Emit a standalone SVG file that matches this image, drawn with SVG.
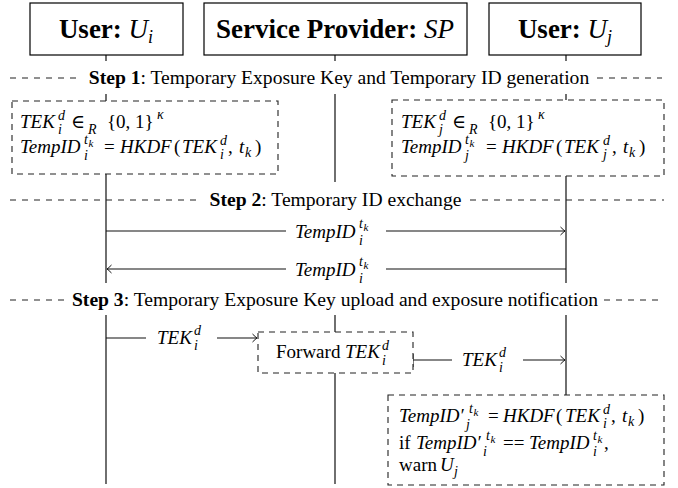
<svg xmlns="http://www.w3.org/2000/svg" width="678" height="488" viewBox="0 0 678 488" font-family="'Liberation Serif', 'Times New Roman', 'DejaVu Serif', serif">
<defs>
<style>
text, tspan { font-family: 'Liberation Serif', 'Times New Roman', 'DejaVu Serif', serif; fill: #000; }
.hdr{font-size:27px}
.b{font-weight:bold}
.it{font-style:italic}
.m{font-size:19px;font-style:italic}
.r{font-size:19px;font-style:normal}
.s{font-size:14px;font-style:italic}
.ss{font-size:11px;font-style:italic}
.st{font-size:19.6px}
.box{fill:#fff;stroke:#000;stroke-width:1.2}
.dbox{fill:#fff;stroke:#222;stroke-width:1.1;stroke-dasharray:6 5}
.dash{stroke:#222;stroke-width:1.1;stroke-dasharray:6 6;fill:none}
.life{stroke:#111;stroke-width:1.2;fill:none}
.arr{stroke:#111;stroke-width:1.1;fill:none}
</style>
<marker id="ah" markerWidth="10" markerHeight="10" refX="0" refY="0" viewBox="-6 -5 7 10" orient="auto" markerUnits="userSpaceOnUse">
<path d="M-4.5,-4 Q-1.5,-1 0,0 Q-1.5,1 -4.5,4" fill="none" stroke="#111" stroke-width="1"/>
</marker>
</defs>

<g id="connectors">
<path class="life" d="M106,55V61 M106,94V101 M106,174V283 M106,315V484"/>
<path class="life" d="M335,55V61 M335,94V182 M335,315V332 M335,373V484"/>
<path class="life" d="M566,55V61 M566,94V100 M566,176V283 M566,315V395"/>
<line class="arr" x1="106" y1="231" x2="286" y2="231"/>
<line class="arr" x1="386" y1="231" x2="565" y2="231" marker-end="url(#ah)"/>
<line class="arr" x1="286" y1="269" x2="107" y2="269" marker-end="url(#ah)"/>
<line class="arr" x1="386" y1="269" x2="566" y2="269"/>
<line class="arr" x1="106" y1="338" x2="146" y2="338"/>
<line class="arr" x1="217" y1="338" x2="257" y2="338" marker-end="url(#ah)"/>
<line class="arr" x1="413" y1="360" x2="452" y2="360"/>
<line class="arr" x1="413" y1="354" x2="413" y2="367"/>
<line class="arr" x1="523" y1="360" x2="565" y2="360" marker-end="url(#ah)"/>
</g>

<g id="header-ui">
<rect class="box" x="30" y="3" width="153" height="52"/>
<text class="hdr" x="106" y="38" text-anchor="middle"><tspan class="b">User: </tspan><tspan class="it">U</tspan><tspan class="it" font-size="18" dy="5">i</tspan></text>
</g>
<g id="header-sp">
<rect class="box" x="204" y="3" width="263" height="52"/>
<text class="hdr" x="335" y="38" text-anchor="middle"><tspan class="b">Service Provider: </tspan><tspan class="it">SP</tspan></text>
</g>
<g id="header-uj">
<rect class="box" x="489" y="3" width="152" height="52"/>
<text class="hdr" x="565" y="38" text-anchor="middle"><tspan class="b">User: </tspan><tspan class="it">U</tspan><tspan class="it" font-size="18" dy="5">j</tspan></text>
</g>

<g id="steps">
<path class="dash" d="M10,78H81 M597,78H662"/>
<text class="st" x="339" y="84" text-anchor="middle"><tspan class="b">Step 1</tspan>: Temporary Exposure Key and Temporary ID generation</text>
<path class="dash" d="M10,200H197 M470,200H664"/>
<text class="st" x="335.5" y="206" text-anchor="middle"><tspan class="b">Step 2</tspan>: Temporary ID exchange</text>
<path class="dash" d="M10,300H67 M604,300H662"/>
<text class="st" x="335" y="306" text-anchor="middle"><tspan class="b">Step 3</tspan>: Temporary Exposure Key upload and exposure notification</text>
</g>

<g id="gen-ui">
<rect class="dbox" x="12" y="101" width="266" height="73"/>
<text class="m" x="20" y="128">TEK</text>
<text class="s" x="58" y="120">d</text>
<text class="s" x="58" y="134">i</text>
<text class="r" x="71" y="128">∈</text>
<text class="s" x="88" y="134">R</text>
<text class="r" x="107" y="128">{0, 1}</text>
<text class="s" x="157" y="119">κ</text>
<text class="m" x="20" y="153">TempID</text>
<text class="s" x="84" y="144">t</text>
<text class="ss" x="88.5" y="147">k</text>
<text class="s" x="84" y="160">i</text>
<text class="r" x="104" y="153">=</text>
<text class="m" x="120" y="153">HKDF</text>
<text class="r" x="174" y="153">(</text>
<text class="m" x="182" y="153">TEK</text>
<text class="s" x="220" y="145">d</text>
<text class="s" x="220" y="159">i</text>
<text class="r" x="228" y="153">,</text>
<text class="m" x="239" y="153">t</text>
<text class="s" x="245" y="157">k</text>
<text class="r" x="255" y="153">)</text>
</g>

<g id="gen-uj">
<rect class="dbox" x="392" y="100" width="272" height="76"/>
<text class="m" x="401" y="128">TEK</text>
<text class="s" x="439" y="120">d</text>
<text class="s" x="439" y="134">j</text>
<text class="r" x="452" y="128">∈</text>
<text class="s" x="469" y="134">R</text>
<text class="r" x="488" y="128">{0, 1}</text>
<text class="s" x="538" y="119">κ</text>
<text class="m" x="401" y="153">TempID</text>
<text class="s" x="465" y="144">t</text>
<text class="ss" x="469.5" y="147">k</text>
<text class="s" x="465" y="160">j</text>
<text class="r" x="486" y="153">=</text>
<text class="m" x="502" y="153">HKDF</text>
<text class="r" x="556" y="153">(</text>
<text class="m" x="564" y="153">TEK</text>
<text class="s" x="603" y="145">d</text>
<text class="s" x="603" y="159">j</text>
<text class="r" x="612" y="153">,</text>
<text class="m" x="623" y="153">t</text>
<text class="s" x="629" y="157">k</text>
<text class="r" x="639" y="153">)</text>
</g>

<g id="msg-labels">
<text class="m" x="295" y="237.5">TempID</text>
<text class="s" x="359" y="228">t</text>
<text class="ss" x="363.5" y="231">k</text>
<text class="s" x="359" y="245">i</text>
<text class="m" x="295" y="275.5">TempID</text>
<text class="s" x="359" y="266">t</text>
<text class="ss" x="363.5" y="269">k</text>
<text class="s" x="359" y="283">i</text>
<text class="m" x="157" y="344">TEK</text>
<text class="s" x="194" y="335">d</text>
<text class="s" x="194" y="350">i</text>
<text class="m" x="462" y="366">TEK</text>
<text class="s" x="499" y="357">d</text>
<text class="s" x="499" y="372">i</text>
</g>

<g id="forward">
<rect class="dbox" x="258" y="332" width="155" height="41"/>
<text class="r" x="276" y="358">Forward</text>
<text class="m" x="345" y="358">TEK</text>
<text class="s" x="382" y="350">d</text>
<text class="s" x="382" y="365">i</text>
</g>

<g id="check">
<rect class="dbox" x="388" y="395" width="276" height="90"/>
<text class="m" x="399" y="422">TempID′</text>
<text class="s" x="469" y="413">t</text>
<text class="ss" x="473.5" y="416">k</text>
<text class="s" x="466" y="429">j</text>
<text class="r" x="488" y="422">=</text>
<text class="m" x="503" y="422">HKDF</text>
<text class="r" x="556" y="422">(</text>
<text class="m" x="565" y="422">TEK</text>
<text class="s" x="603" y="414">d</text>
<text class="s" x="603" y="428">i</text>
<text class="r" x="611" y="422">,</text>
<text class="m" x="622" y="422">t</text>
<text class="s" x="628" y="426">k</text>
<text class="r" x="638" y="422">)</text>
<text class="r" x="399" y="449">if</text>
<text class="m" x="416" y="449">TempID′</text>
<text class="s" x="486" y="440">t</text>
<text class="ss" x="490.5" y="443">k</text>
<text class="s" x="483" y="456">i</text>
<text class="r" x="503" y="449">==</text>
<text class="m" x="529" y="449">TempID</text>
<text class="s" x="593" y="440">t</text>
<text class="ss" x="597.5" y="443">k</text>
<text class="s" x="593" y="456">i</text>
<text class="r" x="604" y="449">,</text>
<text class="r" x="399" y="471">warn</text>
<text class="m" x="440" y="471">U</text>
<text class="s" x="454" y="476">j</text>
</g>
</svg>
